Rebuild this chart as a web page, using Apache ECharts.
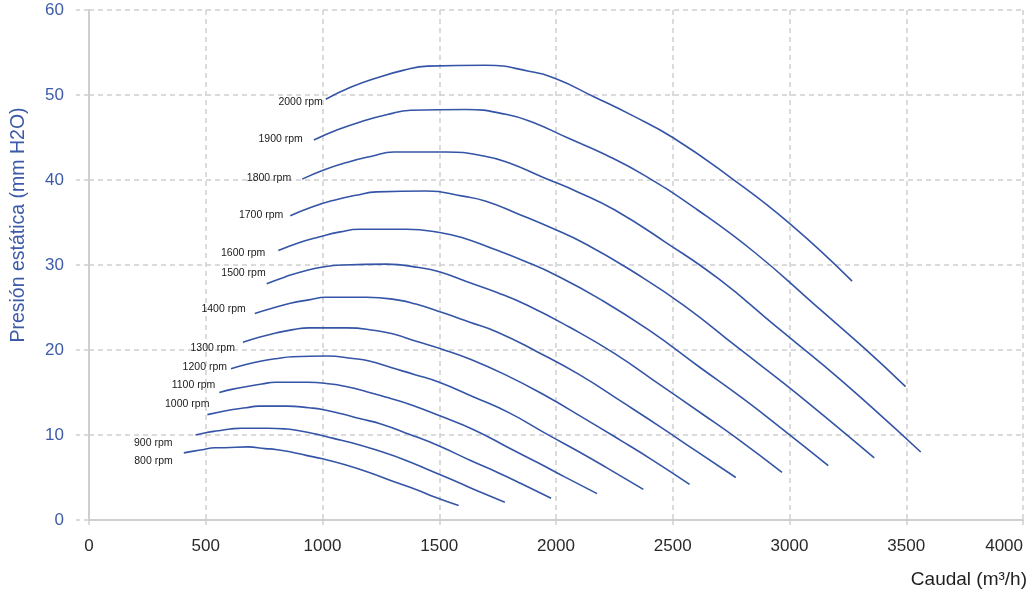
<!DOCTYPE html>
<html>
<head>
<meta charset="utf-8">
<script src="https://cdn.jsdelivr.net/npm/echarts@6/dist/echarts.min.js"></script>
<style>
html,body{margin:0;padding:0;background:#fff;}
#chart{width:1033px;height:595px;}
</style>
</head>
<body>
<div id="chart"></div>
<script>
// ---- Data (caudal m3/h, presión mm H2O) ----
const rpmLabels = ['2000 rpm','1900 rpm','1800 rpm','1700 rpm','1600 rpm','1500 rpm','1400 rpm','1300 rpm','1200 rpm','1100 rpm','1000 rpm','900 rpm','800 rpm'];

const curve2000 = [[1014,49.5],[1120,50.9],[1231,52.0],[1345,52.9],[1450,53.4],[1700,53.5],[1884,52.8],[2000,51.9],[2162,49.8],[2326,47.6],[2500,45.0],[2742,40.4],[3000,34.9],[3268,28.1]];
const curve1900 = [[963,44.7],[1064,45.9],[1169,46.9],[1278,47.7],[1378,48.2],[1615,48.3],[1790,47.7],[1900,46.8],[2054,44.9],[2210,43.0],[2375,40.6],[2605,36.5],[2850,31.5],[3105,25.4],[3325,20.1],[3497,15.7]];
const curve1800 = [[913,40.1],[1008,41.2],[1108,42.1],[1211,42.8],[1305,43.3],[1530,43.3],[1696,42.8],[1800,42.0],[1946,40.3],[2093,38.6],[2250,36.5],[2468,32.7],[2700,28.3],[2941,22.8],[3150,18.1],[3330,13.8],[3562,8.0]];
const curve1700 = [[862,35.8],[952,36.8],[1046,37.6],[1143,38.2],[1233,38.6],[1445,38.7],[1601,38.1],[1700,37.5],[1838,36.0],[1977,34.4],[2125,32.5],[2331,29.2],[2550,25.2],[2778,20.3],[2975,16.1],[3145,12.3],[3363,7.3]];
const curve1600 = [[811,31.7],[896,32.6],[985,33.3],[1076,33.9],[1160,34.2],[1360,34.2],[1507,33.8],[1600,33.2],[1730,31.9],[1861,30.5],[2000,28.8],[2194,25.9],[2400,22.3],[2614,18.0],[2800,14.3],[2960,10.9],[3166,6.4]];
const curve1500 = [[761,27.8],[840,28.6],[923,29.3],[1009,29.8],[1088,30.0],[1275,30.1],[1413,29.7],[1500,29.2],[1622,28.0],[1745,26.8],[1875,25.3],[2057,22.7],[2250,19.6],[2451,15.8],[2625,12.5],[2775,9.6],[2968,5.6]];
const curve1400 = [[710,24.3],[784,24.9],[862,25.5],[942,25.9],[1015,26.2],[1190,26.2],[1319,25.9],[1400,25.4],[1513,24.4],[1628,23.3],[1750,22.1],[1919,19.8],[2100,17.1],[2288,13.8],[2450,10.9],[2590,8.3],[2770,5.0]];
const curve1300 = [[659,20.9],[728,21.5],[800,22.0],[874,22.4],[943,22.6],[1105,22.6],[1225,22.3],[1300,21.9],[1405,21.0],[1512,20.1],[1625,19.0],[1782,17.1],[1950,14.7],[2124,11.9],[2275,9.4],[2405,7.2],[2572,4.2]];
const curve1200 = [[608,17.8],[672,18.3],[739,18.7],[807,19.0],[870,19.2],[1020,19.3],[1130,19.0],[1200,18.7],[1297,17.9],[1396,17.1],[1500,16.2],[1645,14.5],[1800,12.6],[1961,10.1],[2100,8.0],[2220,6.1],[2374,3.6]];
const curve1100 = [[558,15.0],[616,15.4],[677,15.7],[740,16.0],[798,16.2],[935,16.2],[1036,16.0],[1100,15.7],[1189,15.1],[1279,14.4],[1375,13.6],[1508,12.2],[1650,10.6],[1797,8.5],[1925,6.7],[2035,5.1],[2176,3.1]];
const curve1000 = [[507,12.4],[560,12.7],[616,13.0],[673,13.2],[725,13.4],[850,13.4],[942,13.2],[1000,13.0],[1081,12.5],[1163,11.9],[1250,11.3],[1371,10.1],[1500,8.7],[1634,7.0],[1750,5.6],[1850,4.3],[1979,2.55]];
const curve900  = [[456,10.0],[504,10.3],[554,10.5],[605,10.7],[653,10.8],[765,10.8],[848,10.7],[900,10.5],[973,10.1],[1047,9.6],[1125,9.1],[1234,8.2],[1350,7.1],[1471,5.7],[1575,4.5],[1665,3.4],[1781,2.1]];
const curve800  = [[406,7.9],[448,8.1],[492,8.3],[538,8.5],[580,8.5],[680,8.6],[754,8.4],[800,8.3],[865,8.0],[930,7.6],[1000,7.2],[1097,6.5],[1200,5.6],[1307,4.5],[1400,3.6],[1480,2.7],[1583,1.7]];

const curves = [curve2000,curve1900,curve1800,curve1700,curve1600,curve1500,curve1400,curve1300,curve1200,curve1100,curve1000,curve900,curve800];

// ---- Layout / style (kept separate from data) ----
const labelOffsets = [[-3,2.7],[-11,-0.7],[-11,-1],[-7,-0.3],[-13,2.3],[-1,-10.7],[-9,-4],[-8,5.3],[-4,-2],[-4,-7],[2,-10.3],[-23,7.7],[-11,8.7]];
const LINE = '#3454a6';
const BLUE = '#3d5ba8';
const FONT = '"Liberation Sans", Arial, sans-serif';
const GRIDC = '#cfcfcf';

const series = curves.map((c, i) => ({
  type: 'line',
  name: rpmLabels[i],
  smooth: 0.5,
  symbol: 'circle',
  symbolSize: 0,
  showSymbol: true,
  showAllSymbol: true,
  silent: true,
  lineStyle: { color: LINE, width: 1.6 },
  itemStyle: { color: LINE },
  emphasis: { disabled: true },
  data: c.map((p, j) => j === 0 ? {
    value: p,
    label: {
      show: true,
      formatter: rpmLabels[i],
      position: 'left',
      distance: 0,
      offset: labelOffsets[i],
      color: '#1a1a1a',
      fontSize: 10.5,
      fontFamily: FONT
    }
  } : { value: p })
}));

const chart = echarts.init(document.getElementById('chart'), null, { renderer: 'canvas' });
chart.setOption({
  animation: false,
  backgroundColor: '#ffffff',
  grid: { left: 89, right: 10, top: 10, bottom: 75, containLabel: false, outerBoundsMode: 'none' },
  xAxis: {
    type: 'value',
    min: 0, max: 4000, interval: 500,
    name: 'Caudal (m³/h)',
    nameLocation: 'end',
    nameGap: 4,
    nameTextStyle: { color: '#1f1f1f', fontSize: 19, fontFamily: FONT, align: 'right', verticalAlign: 'top', padding: [50, 0, 0, 0] },
    axisLine: { show: true, onZero: false, lineStyle: { color: GRIDC, width: 2 } },
    axisTick: { show: true, length: 8, lineStyle: { color: GRIDC, width: 1.5, type: [5, 4] } },
    axisLabel: { color: '#2a2a2a', fontSize: 17, fontFamily: FONT, margin: 18, alignMaxLabel: 'right', formatter: v => String(v) },
    splitLine: { show: true, lineStyle: { color: GRIDC, width: 1.5, type: [5, 4] } }
  },
  yAxis: {
    type: 'value',
    min: 0, max: 60, interval: 10,
    name: 'Presión estática (mm H2O)',
    nameLocation: 'middle',
    nameGap: 60,
    nameRotate: 90,
    nameTextStyle: { color: BLUE, fontSize: 19.5, fontFamily: FONT, padding: [0, 0, 0, 80] },
    axisLine: { show: true, onZero: false, lineStyle: { color: GRIDC, width: 2 } },
    axisTick: { show: true, length: 13, lineStyle: { color: GRIDC, width: 1.5, type: [5, 4] } },
    axisLabel: { color: BLUE, fontSize: 17, fontFamily: FONT, margin: 25, padding: [6, 0, 0, 0], formatter: v => String(v) },
    splitLine: { show: true, lineStyle: { color: GRIDC, width: 1.5, type: [5, 4] } }
  },
  series: series
});
</script>
</body>
</html>
